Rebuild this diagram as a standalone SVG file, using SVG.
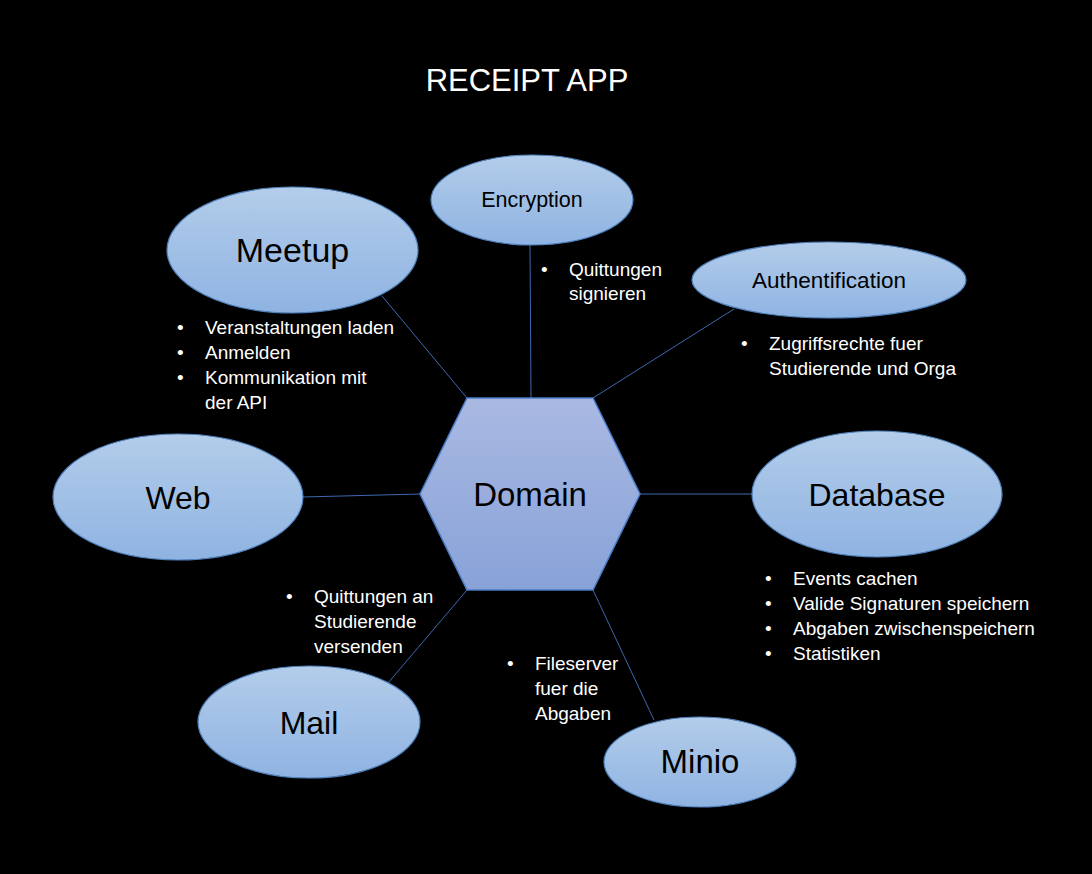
<svg xmlns="http://www.w3.org/2000/svg" width="1092" height="874" viewBox="0 0 1092 874">
<defs>
<linearGradient id="eg" x1="0" y1="0" x2="0" y2="1">
<stop offset="0" stop-color="#b3cdea"/>
<stop offset="1" stop-color="#8fb3e2"/>
</linearGradient>
<linearGradient id="hg" x1="0" y1="0" x2="0" y2="1">
<stop offset="0" stop-color="#a9b9e2"/>
<stop offset="1" stop-color="#88a2d8"/>
</linearGradient>
<style>
.node{fill:url(#eg);stroke:#4f81bd;stroke-width:1.2}
.hex{fill:url(#hg);stroke:#4a7cc7;stroke-width:1.5}
.lbl{font-family:"Liberation Sans",Arial,sans-serif;fill:#000;text-anchor:middle}
.txt{font-family:"Liberation Sans",Arial,sans-serif;fill:#fff;font-size:19px}
.conn line{stroke:#3d68b0;stroke-width:1}
</style>
</defs>
<rect width="1092" height="874" fill="#000"/>
<text x="527" y="91" font-family="Liberation Sans,Arial,sans-serif" font-size="31" fill="#fff" text-anchor="middle">RECEIPT APP</text>
<g id="connectors" class="conn">
<line x1="382" y1="296" x2="467" y2="398"/>
<line x1="530" y1="245" x2="531" y2="398"/>
<line x1="734" y1="309" x2="593" y2="398"/>
<line x1="303" y1="497" x2="420" y2="494"/>
<line x1="640" y1="494" x2="752" y2="494"/>
<line x1="388" y1="683" x2="467" y2="590"/>
<line x1="654" y1="720" x2="593" y2="590"/>
</g>
<g id="domain">
<polygon class="hex" points="467,398 593,398 640,494 593,590 467,590 420,494"/>
<text class="lbl" x="530" y="506" font-size="33">Domain</text>
</g>
<g id="meetup">
<ellipse class="node" cx="292.5" cy="250" rx="125.5" ry="63"/>
<text class="lbl" x="292.5" y="262" font-size="34">Meetup</text>
</g>
<g id="encryption">
<ellipse class="node" cx="532" cy="200" rx="101" ry="45"/>
<text class="lbl" x="532" y="207" font-size="21.5">Encryption</text>
</g>
<g id="authentification">
<ellipse class="node" cx="829" cy="280" rx="137" ry="38"/>
<text class="lbl" x="829" y="288" font-size="22.5">Authentification</text>
</g>
<g id="web">
<ellipse class="node" cx="178" cy="497" rx="125" ry="63"/>
<text class="lbl" x="178" y="509" font-size="32">Web</text>
</g>
<g id="database">
<ellipse class="node" cx="877" cy="494" rx="125" ry="63"/>
<text class="lbl" x="877" y="506" font-size="32">Database</text>
</g>
<g id="mail">
<ellipse class="node" cx="309" cy="722" rx="111" ry="56"/>
<text class="lbl" x="309" y="734" font-size="32">Mail</text>
</g>
<g id="minio">
<ellipse class="node" cx="700" cy="762" rx="96" ry="45"/>
<text class="lbl" x="700" y="773" font-size="33">Minio</text>
</g>
<g id="meetup-notes" class="txt">
<text x="177" y="334">•</text><text x="205" y="334">Veranstaltungen laden</text>
<text x="177" y="359">•</text><text x="205" y="359">Anmelden</text>
<text x="177" y="384">•</text><text x="205" y="384">Kommunikation mit</text>
<text x="205" y="409">der API</text>
</g>
<g id="encryption-notes" class="txt">
<text x="541" y="276">•</text><text x="569" y="276">Quittungen</text>
<text x="569" y="300">signieren</text>
</g>
<g id="auth-notes" class="txt">
<text x="741" y="350">•</text><text x="769" y="350">Zugriffsrechte fuer</text>
<text x="769" y="375">Studierende und Orga</text>
</g>
<g id="database-notes" class="txt">
<text x="765" y="585">•</text><text x="793" y="585">Events cachen</text>
<text x="765" y="610">•</text><text x="793" y="610">Valide Signaturen speichern</text>
<text x="765" y="635">•</text><text x="793" y="635">Abgaben zwischenspeichern</text>
<text x="765" y="660">•</text><text x="793" y="660">Statistiken</text>
</g>
<g id="mail-notes" class="txt">
<text x="286" y="603">•</text><text x="314" y="603">Quittungen an</text>
<text x="314" y="628">Studierende</text>
<text x="314" y="653">versenden</text>
</g>
<g id="minio-notes" class="txt">
<text x="507" y="670">•</text><text x="535" y="670">Fileserver</text>
<text x="535" y="695">fuer die</text>
<text x="535" y="720">Abgaben</text>
</g>
</svg>
